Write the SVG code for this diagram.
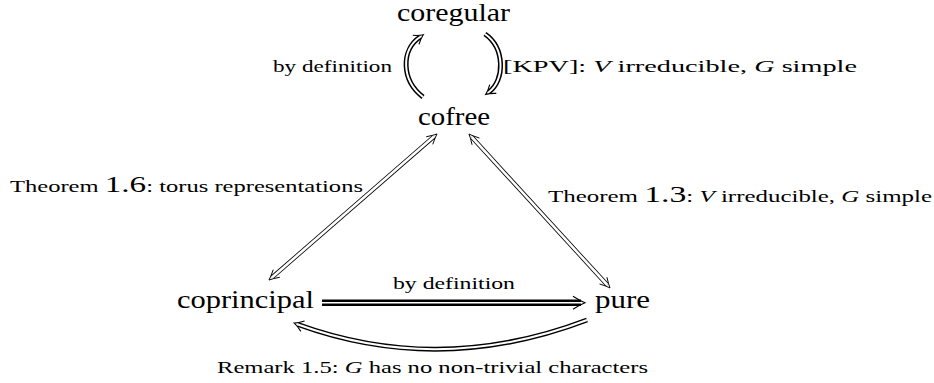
<svg xmlns="http://www.w3.org/2000/svg" width="934" height="383" viewBox="0 0 934 383">
<style>
  text { font-family: 'Liberation Serif', 'DejaVu Serif', 'Times New Roman', Times, serif; fill: #000; }
  .node { font-size: 25px; }
  .lbl { font-size: 17px; }
  .big { font-size: 23px; }
  .it { font-style: italic; }
  .outer { fill: none; stroke: #000; stroke-width: 5; }
  .inner { fill: none; stroke: #fff; stroke-width: 2; }
  .houter { fill: none; stroke: #000; stroke-width: 4.2; }
  .hinner { fill: none; stroke: #fff; stroke-width: 2.6; }
  .touter { fill: none; stroke: #000; stroke-width: 6.4; }
  .tinner { fill: none; stroke: #fff; stroke-width: 1.6; }
</style>
<defs>
  <marker id="dbl" markerUnits="userSpaceOnUse" orient="auto-start-reverse" refX="0" refY="0" markerWidth="20" markerHeight="20" overflow="visible">
    <path d="M-5,-5.5 Q0,-1.5 4,0 Q0,1.5 -5,5.5" fill="none" stroke="#000" stroke-width="1.1"/>
  </marker>
  <marker id="hol" markerUnits="userSpaceOnUse" orient="auto-start-reverse" refX="0" refY="0" markerWidth="20" markerHeight="20" overflow="visible">
    <path d="M-6,-5 Q0,-1.5 4,0 Q0,1.5 -6,5" fill="none" stroke="#000" stroke-width="0.9"/>
  </marker>
  <marker id="tri" markerUnits="userSpaceOnUse" orient="auto" refX="0" refY="0" markerWidth="24" markerHeight="24" overflow="visible">
    <path d="M-8,-6.5 Q-1,-2 4,0 Q-1,2 -8,6.5" fill="none" stroke="#000" stroke-width="1.1"/>
  </marker>
</defs>

<g id="connectors">
  <path class="outer" d="M423,97 C401,80 401,50 420,37" marker-end="url(#dbl)"/>
  <path class="inner" d="M423,97 C401,80 401,50 420,37"/>
  <path class="outer" d="M485,34 C505,48 505,80 489,92" marker-end="url(#dbl)"/>
  <path class="inner" d="M485,34 C505,48 505,80 489,92"/>
  <path class="houter" d="M272,277.4 L434,136.6" marker-start="url(#hol)" marker-end="url(#hol)"/>
  <path class="hinner" d="M272,277.4 L434,136.6"/>
  <path class="houter" d="M471.7,137 L607.3,285" marker-start="url(#hol)" marker-end="url(#hol)"/>
  <path class="hinner" d="M471.7,137 L607.3,285"/>
  <path class="touter" d="M322,302.7 L581,302.7" marker-end="url(#tri)"/>
  <path class="tinner" d="M322,302.7 L581,302.7"/>
  <path class="outer" d="M587,320 Q440,376 298,324.5" marker-end="url(#dbl)"/>
  <path class="inner" d="M587,320 Q440,376 298,324.5"/>
</g>

<g id="coregular"><text class="node" font-family="Liberation Serif, serif" x="397" y="21" textLength="113" lengthAdjust="spacingAndGlyphs">coregular</text></g>
<g id="cofree"><text class="node" font-family="Liberation Serif, serif" x="418" y="124.5" textLength="72" lengthAdjust="spacingAndGlyphs">cofree</text></g>
<g id="coprincipal"><text class="node" font-family="Liberation Serif, serif" x="177" y="308" textLength="137" lengthAdjust="spacingAndGlyphs">coprincipal</text></g>
<g id="pure"><text class="node" font-family="Liberation Serif, serif" x="595" y="308" textLength="55" lengthAdjust="spacingAndGlyphs">pure</text></g>

<g id="labels">
  <text class="lbl" font-family="Liberation Serif, serif" x="273" y="72" textLength="119" lengthAdjust="spacingAndGlyphs">by definition</text>
  <text class="lbl" font-family="Liberation Serif, serif" x="503" y="72" textLength="354" lengthAdjust="spacingAndGlyphs">[KPV]: <tspan class="it">V</tspan> irreducible, <tspan class="it">G</tspan> simple</text>
  <text class="lbl" font-family="Liberation Serif, serif" x="10" y="192" textLength="353" lengthAdjust="spacingAndGlyphs">Theorem <tspan class="big">1.6</tspan>: torus representations</text>
  <text class="lbl" font-family="Liberation Serif, serif" x="548" y="202" textLength="384" lengthAdjust="spacingAndGlyphs">Theorem <tspan class="big">1.3</tspan>: <tspan class="it">V</tspan> irreducible, <tspan class="it">G</tspan> simple</text>
  <text class="lbl" font-family="Liberation Serif, serif" x="393" y="289" textLength="122" lengthAdjust="spacingAndGlyphs">by definition</text>
  <text class="lbl" font-family="Liberation Serif, serif" x="217" y="373" textLength="431" lengthAdjust="spacingAndGlyphs">Remark 1.5: <tspan class="it">G</tspan> has no non-trivial characters</text>
</g>
</svg>
